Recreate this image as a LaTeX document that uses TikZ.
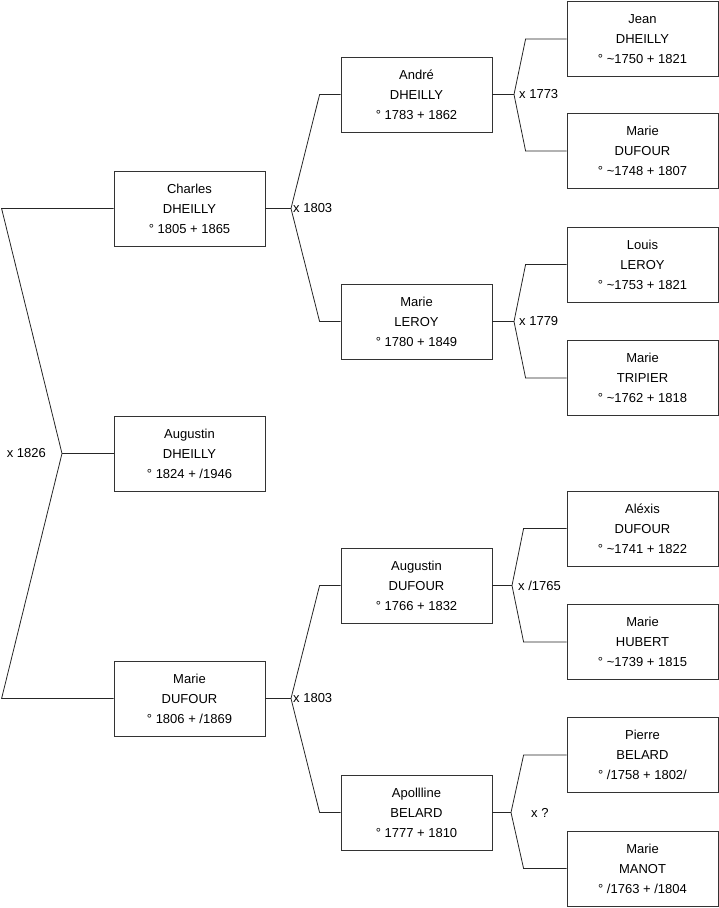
\documentclass[tikz,border=0pt]{standalone}
\usepackage{fontspec}
\setmainfont{Liberation Sans}
\usepackage{tikz}
\usetikzlibrary{positioning,calc}
\newcommand{\PersonFont}{\fontsize{13pt}{20pt}\selectfont}
\newcommand{\TreeFork}[5]{%
    \draw[branch] (#1) -- (#4);
    \draw[branch] (#2.west) -- ++(-#5,0) -- (#4) -- ($(#3.west)+(-#5,0)$) -- (#3.west);%
}
\tikzset{
  person/.style={
    draw=black!80, line width=0.8pt, fill=white,
    minimum width=151pt, minimum height=75pt,
    inner sep=0, align=center, font=\PersonFont
  },
  branch/.style={draw=black!85, line width=0.8pt, line join=miter},
  forklabel/.style={inner sep=0, font=\PersonFont}
}
\begin{document}
\begin{tikzpicture}[x=1pt, y=-1pt]
    \useasboundingbox (0,0) rectangle (719,908);
    % generation 1
    \node[person] (charles) at (189.5,208.5) {Charles\\DHEILLY\\° 1805 + 1865};
    \node[person] (augustin) at (189.5,453.5) {Augustin\\DHEILLY\\° 1824 + /1946};
    \node[person] (marieDufour) at (189.5,698.5) {Marie\\DUFOUR\\° 1806 + /1869};
    % generation 2
    \node[person] (andre) at (416.5,94.5) {André\\DHEILLY\\° 1783 + 1862};
    \node[person] (marieLeroy) at (416.5,321.5) {Marie\\LEROY\\° 1780 + 1849};
    \node[person] (augustinDufour) at (416.5,585.5) {Augustin\\DUFOUR\\° 1766 + 1832};
    \node[person] (apolline) at (416.5,812.5) {Apollline\\BELARD\\° 1777 + 1810};
    % generation 3
    \node[person] (jean) at (642.5,39) {Jean\\DHEILLY\\° \textasciitilde1750 + 1821};
    \node[person] (marieDufourB) at (642.5,151) {Marie\\DUFOUR\\° \textasciitilde1748 + 1807};
    \node[person] (louis) at (642.5,264.5) {Louis\\LEROY\\° \textasciitilde1753 + 1821};
    \node[person] (marieTripier) at (642.5,378) {Marie\\TRIPIER\\° \textasciitilde1762 + 1818};
    \node[person] (alexis) at (642.5,528.5) {Aléxis\\DUFOUR\\° \textasciitilde1741 + 1822};
    \node[person] (marieHubert) at (642.5,642) {Marie\\HUBERT\\° \textasciitilde1739 + 1815};
    \node[person] (pierre) at (642.5,755) {Pierre\\BELARD\\° /1758 + 1802/};
    \node[person] (marieManot) at (642.5,868.5) {Marie\\MANOT\\° /1763 + /1804};
    % forks
    \coordinate (x1826) at (62,453.5);
    \coordinate (x1803a) at (291,208.5);
    \coordinate (x1803b) at (291,698.5);
    \coordinate (x1773) at (514,94.5);
    \coordinate (x1779) at (514,321.5);
    \coordinate (x1765) at (512,585.5);
    \coordinate (xq) at (511,812.5);
    \TreeFork{augustin.west}{charles}{marieDufour}{x1826}{112}
    \TreeFork{charles.east}{andre}{marieLeroy}{x1803a}{21}
    \TreeFork{marieDufour.east}{augustinDufour}{apolline}{x1803b}{21}
    \TreeFork{andre.east}{jean}{marieDufourB}{x1773}{41}
    \TreeFork{marieLeroy.east}{louis}{marieTripier}{x1779}{41}
    \TreeFork{augustinDufour.east}{alexis}{marieHubert}{x1765}{43}
    \TreeFork{apolline.east}{pierre}{marieManot}{xq}{43}
    % marriage labels
    \node[forklabel, left=16pt of x1826] {x 1826};
    \node[forklabel, right=2pt of x1803a] {x 1803};
    \node[forklabel, right=2pt of x1803b] {x 1803};
    \node[forklabel, right=5pt of x1773] {x 1773};
    \node[forklabel, right=5pt of x1779] {x 1779};
    \node[forklabel, right=6pt of x1765] {x /1765};
    \node[forklabel, right=20pt of xq] {x ?};
\end{tikzpicture}
\end{document}
